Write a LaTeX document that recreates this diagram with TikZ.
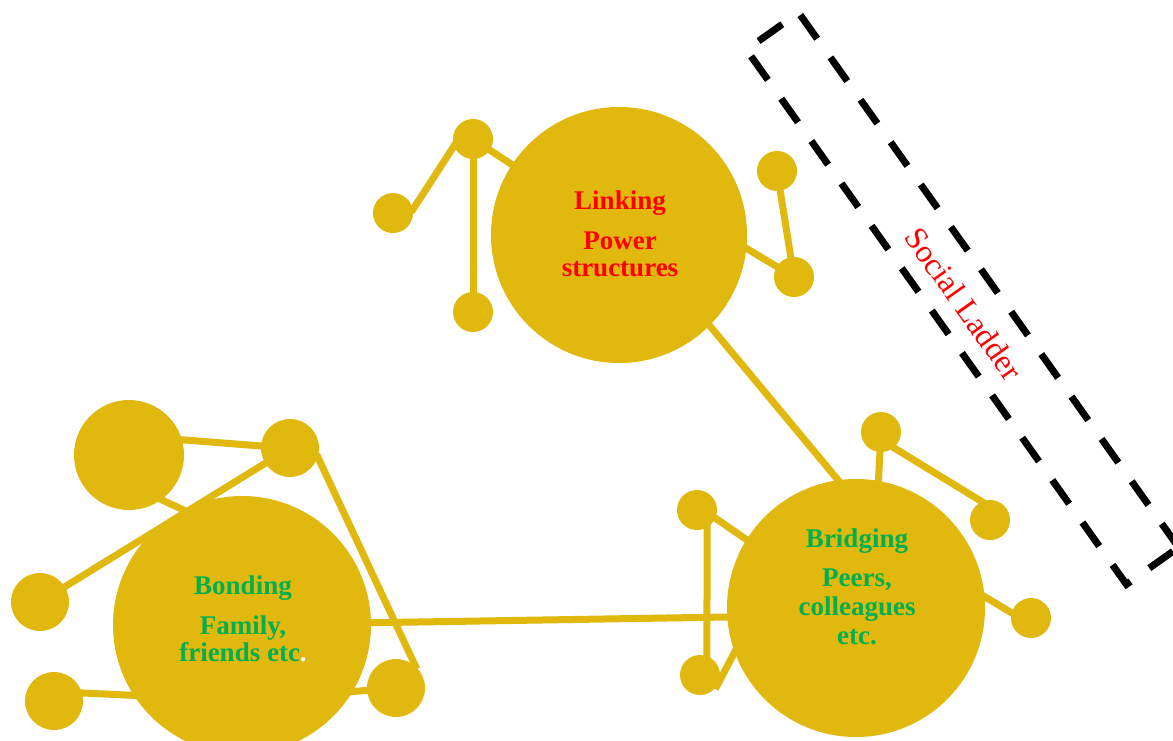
\documentclass[tikz,border=0pt]{standalone}
\usepackage{fontspec}
\setmainfont{Liberation Serif}
\usetikzlibrary{calc}

\pgfdeclarelayer{back}
\pgfsetlayers{back,main}

\definecolor{gold}{RGB}{224,184,14}
\definecolor{capgreen}{RGB}{0,176,80}

\begin{document}
\begin{tikzpicture}[x=1pt, y=-1pt,
  ball/.style={circle, fill=gold, inner sep=0pt, minimum size=#1},
  bar/.style={draw=gold, line width=7pt, shorten <=-3pt, shorten >=-3pt},
  lab/.style={align=center, inner sep=0pt, font=\fontsize{27}{27}\selectfont\bfseries}]

\useasboundingbox (0, 0) rectangle (1173, 740);

% the three big circles
\node[ball=256pt] (link)   at (619, 235) {};
\node[ball=258pt] (bond)   at (242, 625) {};
\node[ball=258pt] (bridge) at (856, 608) {};

% small circles round Linking
\node[ball=40pt] (linkA) at (473, 139) {};
\node[ball=40pt] (linkB) at (393, 213) {};
\node[ball=40pt] (linkC) at (473, 312) {};
\node[ball=40pt] (linkD) at (777, 171) {};
\node[ball=40pt] (linkE) at (794, 277) {};

% small circles round Bonding
\node[ball=110pt] (bondA) at (129, 455) {};
\node[ball=58pt]  (bondB) at (290, 448) {};
\node[ball=58pt]  (bondC) at ( 40, 602) {};
\node[ball=58pt]  (bondD) at ( 54, 701) {};
\node[ball=58pt]  (bondE) at (396, 688) {};

% small circles round Bridging
\node[ball=40pt] (bridgeA) at ( 881, 432) {};
\node[ball=40pt] (bridgeB) at ( 990, 520) {};
\node[ball=40pt] (bridgeC) at (1031, 618) {};
\node[ball=40pt] (bridgeD) at ( 697, 510) {};
\node[ball=40pt] (bridgeE) at ( 700, 675) {};

\begin{pgfonlayer}{back}
\fill[white] (0, 0) rectangle (1173, 740);

\draw[bar] (linkA.-160) -- (linkB.10);
\draw[bar] (linkA) -- (linkC);
\draw[bar] (linkA) -- (link);
\draw[bar] (linkD) -- (linkE);
\draw[bar] (linkE) -- (link.-6);
\draw[bar] (link.-45) -- (bridge.98);

\draw[bar] (bondA.16) -- (bondB.176);
\draw[bar] (bondA.-54) -- (bond.117);
\draw[bar] (bondB) -- (bondC);
\draw[bar] (bondB.-18) -- (bondE.48);
\draw[bar] (bondD.16) -- (bond.-147);
\draw[bar] (bondE.center) -- (bond.-31);
\draw[bar] (bond.1) -- (bridge.-176);

\draw[bar] (bridgeA.center) -- (bridge.80);
\draw[bar] (bridgeA.-51) -- (bridgeB.114);
\draw[bar] (bridge.5) -- (bridgeC.165);
\draw[bar] (bridgeD.-60) -- (bridgeE.70);
\draw[bar] (bridgeD.-24) -- (bridge.148);
\draw[bar] (bridgeE.-34) -- (bridge.-160);
\end{pgfonlayer}

% texts
\node[lab, text=red]      (linkT)   at (620, 234) {Linking\\[13pt]Power\\structures};
\node[lab, text=capgreen] (bondT)   at (243, 619) {Bonding\\[13pt]Family,\\friends etc\textcolor{white}{.}};
\node[lab, text=capgreen, font=\fontsize{27}{29}\selectfont\bfseries]
      (bridgeT) at (857, 587) {Bridging\\[10pt]Peers,\\colleagues\\etc.};

% social ladder
\node[draw, line width=7pt, dash pattern=on 29pt off 23pt, rotate=-54.6,
      minimum width=656pt, minimum height=64pt, inner sep=0pt] (ladder) at (962.5, 298.5) {};
\node[rotate=-54.6, text=red, font=\fontsize{32}{32}\selectfont] (ladderT) at (964, 304) {Social Ladder};

\end{tikzpicture}
\end{document}
